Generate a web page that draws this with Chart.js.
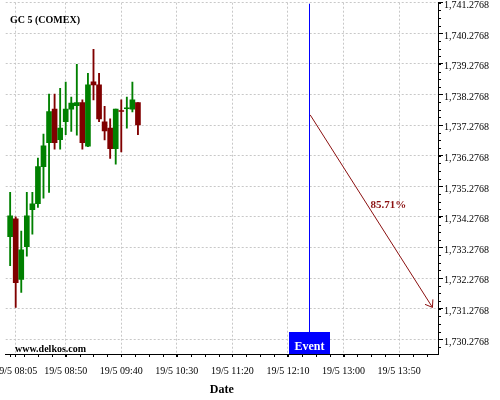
<!DOCTYPE html>
<html><head><meta charset="utf-8">
<script src="https://cdn.jsdelivr.net/npm/chart.js@4/dist/chart.umd.min.js"></script>
<style>html,body{margin:0;padding:0;background:#fff}canvas{display:block}</style>
</head><body>
<canvas id="c" width="500" height="400"></canvas>
<script>
// ---- data ----
const candleTimes = ['08:00','08:05','08:10','08:15','08:20','08:25','08:30','08:35','08:40','08:45','08:50','08:55',
                     '09:00','09:05','09:10','09:15','09:20','09:25','09:30','09:35','09:40','09:45','09:50','09:55'];
const opens  = [1733.63,1734.21,1732.23,1733.30,1734.51,1734.71,1735.92,1736.70,1737.80,1736.80,1737.39,1737.80,
                1737.91,1738.01,1736.59,1738.69,1738.59,1737.38,1737.18,1736.51,1737.75,1737.81,1737.80,1738.01];
const highs  = [1735.08,1734.28,1733.81,1735.08,1735.08,1736.20,1736.98,1738.29,1738.29,1738.48,1738.68,1738.19,
                1739.26,1738.10,1738.97,1739.75,1738.97,1737.89,1737.48,1737.80,1738.10,1738.19,1738.68,1738.01];
const lows   = [1732.68,1731.32,1731.81,1732.99,1733.71,1734.59,1734.89,1735.08,1736.49,1736.49,1736.96,1737.07,
                1736.95,1736.49,1736.57,1738.10,1737.39,1736.79,1736.19,1736.00,1736.40,1737.18,1737.71,1736.96];
const closes = [1734.31,1732.13,1733.20,1734.31,1734.70,1735.92,1736.60,1737.72,1736.70,1737.18,1737.80,1738.00,
                1738.01,1736.70,1738.59,1738.59,1737.48,1737.09,1736.51,1737.80,1737.72,1737.84,1738.10,1737.28];
const xTickTimes  = ['08:05','08:50','09:40','10:30','11:20','12:10','13:00','13:50'];
const xTickLabels = ['19/5 08:05','19/5 08:50','19/5 09:40','19/5 10:30','19/5 11:20','19/5 12:10','19/5 13:00','19/5 13:50'];
const yTickValues = [1730.2768,1731.2768,1732.2768,1733.2768,1734.2768,1735.2768,1736.2768,1737.2768,1738.2768,1739.2768,1740.2768,1741.2768];
const eventTime = '12:30';
const projectionTimes  = ['12:30','14:20'];
const projectionPrices = [1737.61, 1731.32];
const projectionLabel = '85.71%';
const chartTitle = 'GC 5 (COMEX)';
const watermark = 'www.delkos.com';
const xAxisTitle = 'Date';
const eventLabel = 'Event';

// ---- helpers ----
const toMin = s => { const [h, m] = s.split(':').map(Number); return h * 60 + m; };
const FONT = "'Liberation Serif','Times New Roman',serif";
const GREEN = '#008000', RED = '#800000', ARROW = '#8b1010';
const candleColors = opens.map((o, i) => closes[i] >= o ? GREEN : RED);

const overlay = {
  id: 'overlay',
  afterDraw(chart) {
    const ctx = chart.ctx, xs = chart.scales.x, ys = chart.scales.y, a = chart.chartArea;
    ctx.save();
    // minor ticks x
    ctx.strokeStyle = '#000'; ctx.lineWidth = 1;
    ctx.beginPath();
    const base = toMin('08:50');
    for (let v = base; v <= xs.max; v += 12.5) { const p = Math.round(xs.getPixelForValue(v)) + 0.5; ctx.moveTo(p, a.bottom); ctx.lineTo(p, a.bottom + 3); }
    for (let v = base - 12.5; v >= xs.min; v -= 12.5) { const p = Math.round(xs.getPixelForValue(v)) + 0.5; ctx.moveTo(p, a.bottom); ctx.lineTo(p, a.bottom + 3); }
    // minor ticks y
    for (let v = yTickValues[0]; v <= ys.max; v += 0.25) { const p = Math.round(ys.getPixelForValue(v)) + 0.5; ctx.moveTo(a.right, p); ctx.lineTo(a.right + 3, p); }
    for (let v = yTickValues[0] - 0.25; v >= ys.min; v -= 0.25) { const p = Math.round(ys.getPixelForValue(v)) + 0.5; ctx.moveTo(a.right, p); ctx.lineTo(a.right + 3, p); }
    ctx.stroke();

    // title & watermark
    ctx.fillStyle = '#000'; ctx.textBaseline = 'middle'; ctx.textAlign = 'left';
    ctx.font = 'bold 10px ' + FONT;
    ctx.fillText(chartTitle, 10, 20.5);
    ctx.fillText(watermark, 15, 349);

    // event line and box
    const ex = Math.round(xs.getPixelForValue(toMin(eventTime))) - 0.5;
    const boxH = 22, boxW = 41;
    ctx.strokeStyle = '#0000ff'; ctx.lineWidth = 1;
    ctx.beginPath(); ctx.moveTo(ex, a.top + 1); ctx.lineTo(ex, a.bottom - boxH); ctx.stroke();
    ctx.fillStyle = '#0000ff';
    ctx.fillRect(ex - boxW / 2, a.bottom - boxH, boxW, boxH);
    ctx.fillStyle = '#fff'; ctx.textAlign = 'center';
    ctx.font = 'bold 12px ' + FONT;
    ctx.fillText(eventLabel, ex, a.bottom - 7.5);

    // arrow head + label
    const pts = chart.getDatasetMeta(2).data;
    const p0 = pts[0], p1 = pts[1];
    const ang = Math.atan2(p1.y - p0.y, p1.x - p0.x) + Math.PI;
    ctx.strokeStyle = ARROW; ctx.lineWidth = 1;
    ctx.beginPath();
    [0.62, -0.62].forEach(d => { ctx.moveTo(p1.x, p1.y); ctx.lineTo(p1.x + 8 * Math.cos(ang + d), p1.y + 8 * Math.sin(ang + d)); });
    ctx.stroke();
    ctx.fillStyle = ARROW; ctx.textAlign = 'center';
    ctx.font = 'bold 11px ' + FONT;
    ctx.fillText(projectionLabel, (p0.x + p1.x) / 2 + 17, (p0.y + p1.y) / 2 - 6);
    ctx.restore();
  }
};

const xMins = candleTimes.map(toMin);
new Chart(document.getElementById('c'), {
  type: 'bar',
  data: {
    datasets: [
      { label: 'wick', data: xMins.map((x, i) => ({ x, y: [lows[i], highs[i]] })),
        backgroundColor: candleColors, barThickness: 1.2, grouped: false, borderWidth: 0, order: 2 },
      { label: 'body', data: xMins.map((x, i) => ({ x, y: [opens[i], closes[i]] })),
        backgroundColor: candleColors, barThickness: 5, grouped: false, borderWidth: 0, order: 1 },
      { type: 'line', label: 'projection',
        data: projectionTimes.map((t, i) => ({ x: toMin(t), y: projectionPrices[i] })),
        borderColor: ARROW, borderWidth: 1, pointRadius: 0, fill: false, order: 0 }
    ]
  },
  options: {
    responsive: false, animation: false,
    layout: { padding: { left: 5.7, top: 2.7, right: 0, bottom: 0 }, autoPadding: false },
    plugins: { legend: { display: false }, tooltip: { enabled: false } },
    scales: {
      x: {
        type: 'linear', position: 'bottom', min: toMin('07:56'), max: toMin('14:25'), offset: false,
        afterBuildTicks: s => { s.ticks = xTickTimes.map(t => ({ value: toMin(t) })); },
        afterFit: s => { s.height = 46; s.paddingLeft = 0; s.paddingRight = 0; },
        ticks: { callback: (v, i) => xTickLabels[i], autoSkip: false, maxRotation: 0, padding: 8,
                 color: '#000', font: { family: FONT, size: 10 } },
        grid: { offset: false, color: '#c8c8c8', lineWidth: 1, tickColor: '#000', tickLength: 3, drawTicks: true },
        border: { display: true, color: '#000', width: 1, dash: [2, 2] },
        title: { display: true, text: xAxisTitle, color: '#000', padding: { top: 0, bottom: 3 },
                 font: { family: FONT, size: 12, weight: 'bold' } }
      },
      y: {
        type: 'linear', position: 'right', min: 1729.7964, max: 1741.2768,
        afterBuildTicks: s => { s.ticks = yTickValues.map(v => ({ value: v })); },
        afterFit: s => { s.width = 62; s.paddingTop = 0; s.paddingBottom = 0; },
        ticks: { callback: v => v.toLocaleString('en-US', { minimumFractionDigits: 4, maximumFractionDigits: 4 }),
                 padding: 1, labelOffset: 2.7, color: '#000', font: { family: FONT, size: 10 } },
        grid: { color: '#c8c8c8', lineWidth: 1, tickColor: '#000', tickLength: 5, drawTicks: true },
        border: { display: true, color: '#000', width: 1, dash: [2, 2] }
      }
    }
  },
  plugins: [overlay]
});
</script>
</body></html>
